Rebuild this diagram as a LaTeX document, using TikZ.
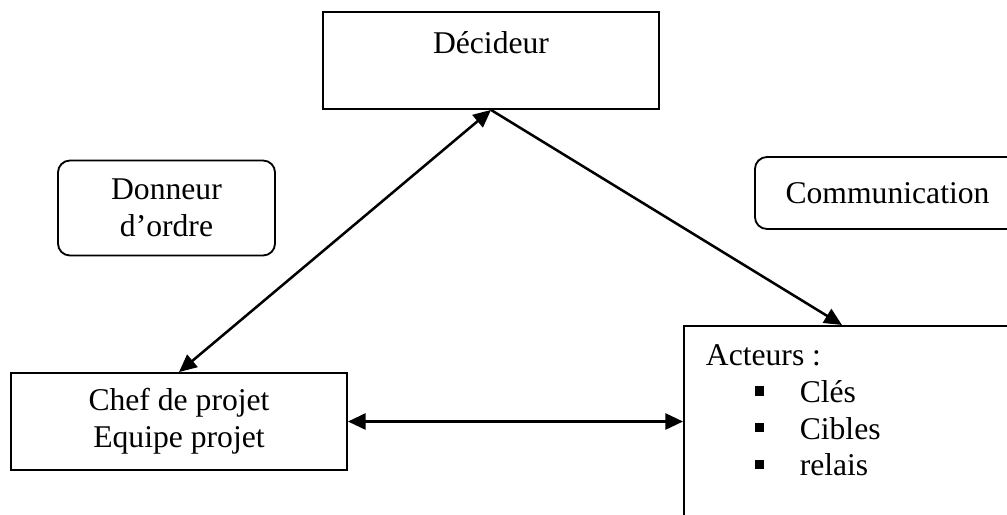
\documentclass[tikz,border=0pt]{standalone}
\usepackage{fontspec}
\setmainfont{Liberation Serif}
\usetikzlibrary{arrows.meta}
\newcommand{\puce}[1]{\hspace*{1.225cm}\rule[0.17cm]{0.23cm}{0.23cm}\hspace*{0.89cm}#1}
\begin{document}
\begin{tikzpicture}[x=0.025cm,y=-0.025cm,
  boite/.style={draw, line width=1.3pt, font=\fontsize{22.5}{26}\selectfont},
  arrondi/.style={boite, rounded corners=0.3cm, align=center},
  fleche/.style={line width=1.8pt, -{Triangle[length=0.44cm,width=0.4cm]}},
  fleches/.style={line width=1.8pt, {Triangle[length=0.44cm,width=0.4cm]}-{Triangle[length=0.44cm,width=0.4cm]}}]
\useasboundingbox (0,0) rectangle (1007,514);
\node[boite, minimum width=8.4cm, minimum height=2.425cm,
  text height=0.5cm, text depth=0.875cm] (dec) at (491,60.5) {Décideur};
\node[arrondi, minimum width=5.425cm, minimum height=2.375cm] (donneur) at (166.5,208) {Donneur\\d’ordre};
\node[arrondi, minimum width=6.625cm, minimum height=1.8cm] (comm) at (887.5,193) {Communication};
\node[boite, align=center, minimum width=8.4cm, minimum height=2.425cm] (chef) at (179,421.5) {Chef de projet\\Equipe projet};
\node[boite, anchor=north west, inner xsep=0.55cm, inner ysep=0.36cm] (act) at (683,325)
  {\parbox[t][7cm][t]{11cm}{\strut Acteurs :\\ \puce{Clés}\\ \puce{Cibles}\\ \puce{relais}}};
\coordinate (actin) at (842,325);
% liaisons
\draw[fleches] (dec.south) -- (chef.north);
\draw[fleche] (dec.south) -- (actin);
\draw[fleches] (chef.east) -- (chef.east -| act.west);
\end{tikzpicture}
\end{document}
